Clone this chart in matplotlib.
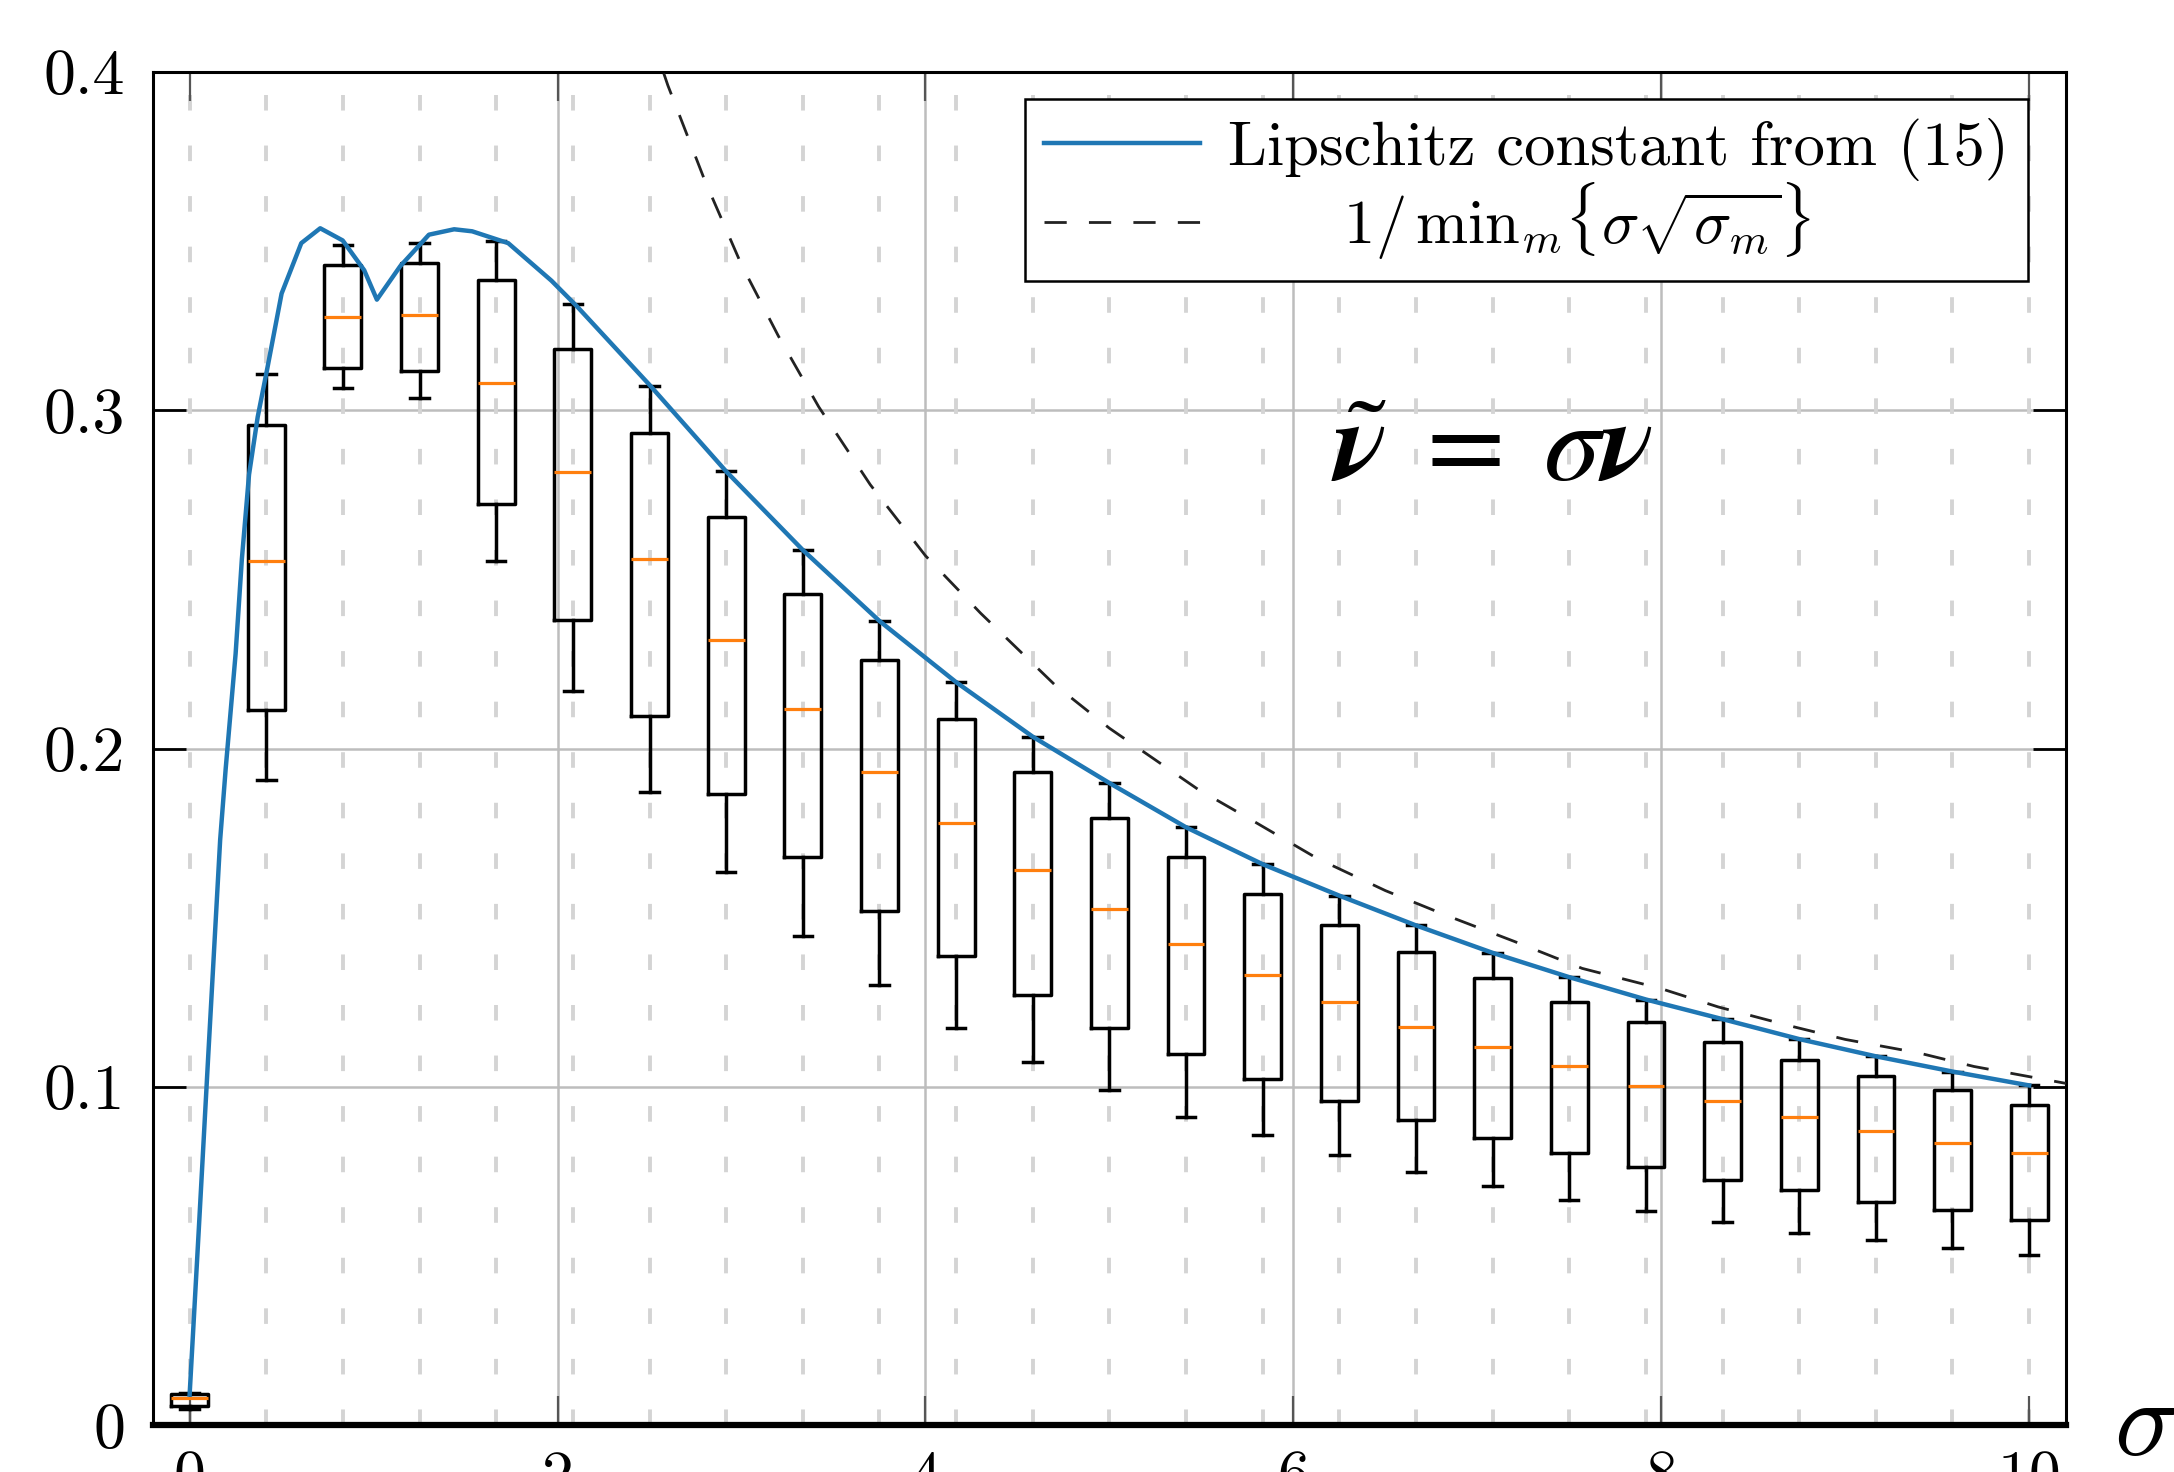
import matplotlib

matplotlib.use("Agg")
import matplotlib.pyplot as plt

plt.rcParams["font.family"] = "serif"
plt.rcParams["font.serif"] = ["cmr10"]
plt.rcParams["mathtext.fontset"] = "cm"
plt.rcParams["axes.unicode_minus"] = False

# box positions (sigma) and five-number summaries
sigma_pos = [0, 0.417, 0.833, 1.25, 1.667, 2.083, 2.5, 2.917, 3.333, 3.75, 4.167, 4.583,
             5.0, 5.417, 5.833, 6.25, 6.667, 7.083, 7.5, 7.917, 8.333, 8.75, 9.167, 9.583, 10.0]
whislo = [0.0046, 0.1907, 0.3066, 0.3036, 0.2554, 0.2169, 0.1870, 0.1634, 0.1446, 0.1300,
          0.1175, 0.1074, 0.0990, 0.0910, 0.0856, 0.0798, 0.0747, 0.0707, 0.0666, 0.0633,
          0.0601, 0.0568, 0.0546, 0.0524, 0.0504]
q1 = [0.0055, 0.2113, 0.3125, 0.3116, 0.2723, 0.2380, 0.2096, 0.1867, 0.1678, 0.1520,
      0.1386, 0.1271, 0.1175, 0.1096, 0.1023, 0.0958, 0.0901, 0.0849, 0.0805, 0.0764,
      0.0725, 0.0694, 0.0660, 0.0635, 0.0607]
med = [0.0079, 0.2554, 0.3277, 0.3283, 0.3080, 0.2817, 0.2561, 0.2321, 0.2116, 0.1932,
       0.1779, 0.1641, 0.1526, 0.1423, 0.1330, 0.1250, 0.1177, 0.1119, 0.1061, 0.1002,
       0.0959, 0.0910, 0.0870, 0.0835, 0.0803]
q3 = [0.0093, 0.2957, 0.3429, 0.3436, 0.3385, 0.3181, 0.2934, 0.2684, 0.2458, 0.2261,
      0.2086, 0.1932, 0.1794, 0.1678, 0.1570, 0.1478, 0.1397, 0.1323, 0.1250, 0.1191,
      0.1133, 0.1080, 0.1033, 0.0991, 0.0947]
whishi = [0.0096, 0.3108, 0.3488, 0.3494, 0.3500, 0.3313, 0.3072, 0.2819, 0.2587, 0.2377,
          0.2196, 0.2035, 0.1898, 0.1767, 0.1658, 0.1565, 0.1477, 0.1396, 0.1324, 0.1258,
          0.1200, 0.1141, 0.1090, 0.1045, 0.1004]

# Lipschitz constant curve
lip_x = [0, 0.05, 0.1, 0.166, 0.196, 0.25, 0.284, 0.323, 0.37, 0.421, 0.5, 0.607, 0.71,
         0.832, 0.949, 1.018, 1.145, 1.301, 1.438, 1.536, 1.732, 1.967, 2.104, 2.5, 2.917,
         3.333, 3.75, 4.167, 4.583, 5.0, 5.417, 5.833, 6.25, 6.667, 7.083, 7.5, 7.917,
         8.333, 8.75, 9.167, 9.583, 10.0]
lip_y = [0.009, 0.058, 0.108, 0.173, 0.194, 0.228, 0.256, 0.281, 0.298, 0.312, 0.3345,
         0.3494, 0.3538, 0.3502, 0.3414, 0.3327, 0.3426, 0.3519, 0.3535, 0.3529, 0.3494,
         0.3383, 0.3308, 0.3075, 0.2819, 0.2587, 0.2377, 0.2196, 0.2035, 0.1898, 0.1767,
         0.1658, 0.1565, 0.1477, 0.1396, 0.1324, 0.1258, 0.1200, 0.1141, 0.1090, 0.1045,
         0.1004]

# bound 1/min_m{sigma sqrt(sigma_m)}
bound_x = [2.5, 2.6, 2.8, 3.0, 3.2, 3.42, 3.7, 4.0, 4.3, 4.7, 5.0, 5.48, 5.8, 6.13, 6.5,
           6.83, 7.2, 7.57, 8.0, 8.31, 8.7, 9.0, 9.4, 9.7, 10.0, 10.2]
bound_y = [0.412, 0.396, 0.368, 0.343, 0.322, 0.301, 0.278, 0.257, 0.240, 0.219, 0.206,
           0.188, 0.178, 0.1675, 0.158, 0.1507, 0.143, 0.135, 0.129, 0.1236, 0.118, 0.114,
           0.110, 0.106, 0.103, 0.101]

y_ticks = [0, 0.1, 0.2, 0.3, 0.4]
y_labels = ["0", "0.1", "0.2", "0.3", "0.4"]
x_ticks = [0, 2, 4, 6, 8, 10]
x_labels = ["0", "2", "4", "6", "8", "10"]

fig = plt.figure(figsize=(21.74, 14.72), dpi=100)
ax = fig.add_axes([0.0703, 0.0319, 0.880, 0.9192])

# grid
for y in [0.1, 0.2, 0.3]:
    ax.axhline(y, color="#bdbdbd", lw=1.8, zorder=0)
for x in [2, 4, 6, 8]:
    ax.axvline(x, color="#bdbdbd", lw=1.8, zorder=0)
for x in sigma_pos:
    ax.axvline(x, color="#d4d4d4", lw=2.8, dashes=(4, 9), zorder=0)

stats = [
    {"whislo": a, "q1": b, "med": c, "q3": d, "whishi": e, "fliers": []}
    for a, b, c, d, e in zip(whislo, q1, med, q3, whishi)
]
ax.bxp(
    stats,
    positions=sigma_pos,
    widths=0.2,
    manage_ticks=False,
    boxprops={"color": "black", "lw": 2.5},
    whiskerprops={"color": "black", "lw": 2.5},
    capprops={"color": "black", "lw": 2.5},
    medianprops={"color": "#ff7f0e", "lw": 2.3},
)

ax.plot(lip_x, lip_y, color="#1f77b4", lw=3.2, zorder=4,
        label="Lipschitz constant from (15)")
ax.plot(bound_x, bound_y, color="#222222", lw=2.0, dashes=(8, 8), zorder=3,
        label=r"$\quad\;\;\;\;1/\,\mathrm{min}_m\{\sigma\sqrt{\sigma_m}\}$")

ax.set_xlim(-0.2, 10.2)
ax.set_ylim(0, 0.4)
ax.set_yticks(y_ticks)
ax.set_yticklabels(y_labels)
ax.set_xticks(x_ticks)
ax.set_xticklabels(x_labels)
ax.tick_params(axis="y", which="both", direction="in", length=24, width=2,
               left=True, right=True, labelsize=46, pad=20)
ax.tick_params(axis="x", which="both", direction="in", length=21, width=1.6,
               color="#555555", top=True, bottom=True, labelsize=46, pad=18)

for side in ["left", "right", "top"]:
    ax.spines[side].set_linewidth(2.2)
ax.spines["bottom"].set_linewidth(4.5)

leg = ax.legend(loc="upper right", bbox_to_anchor=(0.98, 0.98), borderaxespad=0,
                fontsize=45, frameon=True, fancybox=False, edgecolor="black",
                framealpha=1, handlelength=2.5, handletextpad=0.45,
                labelspacing=0.0, borderpad=0.3)
leg.get_frame().set_linewidth(1.8)

ax.text(7.08, 0.279, r"$\tilde{\mathbfit{\nu}}\;=\;\sigma\mathbfit{\nu}$",
        fontsize=82, ha="center", va="baseline", math_fontfamily="stix")
ax.text(1.025, -0.022, r"$\sigma$", transform=ax.transAxes, fontsize=78,
        ha="left", va="baseline")

fig.savefig("out.png", dpi=100)
